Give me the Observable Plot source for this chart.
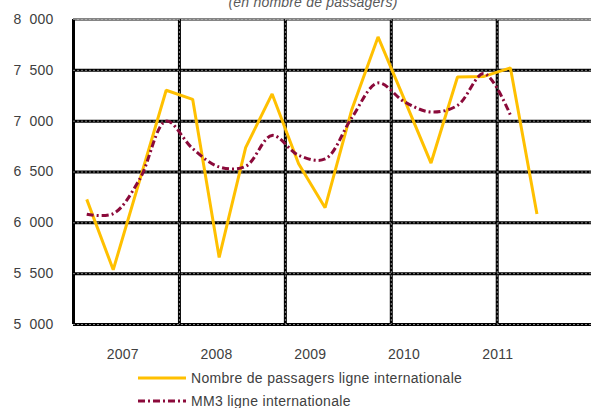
<!DOCTYPE html>
<html><head><meta charset="utf-8">
<script src="https://cdn.jsdelivr.net/npm/d3@7"></script>
<script src="https://cdn.jsdelivr.net/npm/@observablehq/plot@0.6"></script>
<style>
body{margin:0;background:#fff;font-family:"Liberation Sans",Arial,sans-serif;}
#wrap{position:relative;width:591px;height:408px;overflow:hidden;background:#fff;}
#title{position:absolute;left:0;width:626px;top:-5px;text-align:center;font-style:italic;font-size:14px;line-height:14px;color:#595959;letter-spacing:0.2px;}
#chart{position:absolute;left:0;top:0;}
.leg{position:absolute;left:138px;height:22px;display:flex;align-items:center;font-size:14px;color:#404040;white-space:nowrap;letter-spacing:0.3px;}
.leg svg{margin-right:5px;display:block}
</style></head><body>
<div id="wrap"><div id="chart"></div><div id="title">(en nombre de passagers)</div><div id="legend"></div></div>
<script>
// Trimestres (index 0..17)
const periods = [0,1,2,3,4,5,6,7,8,9,10,11,12,13,14,15,16,17];
const passagers = [6231,5538,6420,7304,7215,5660,6740,7268,6582,6149,7107,7829,7210,6588,7435,7440,7524,6087];
const mm3 = [6085,6090,6430,7000,6730,6550,6556,6860,6664,6628,7030,7376,7190,7090,7155,7468,7058];
const years = ["2007","2008","2009","2010","2011"];
const yTicks = [5000,5500,6000,6500,7000,7500,8000];
const seriesNames = ["Nombre de passagers ligne internationale","MM3 ligne internationale"];
const colors = ["#FFC000","#8B0A3A"];

const yearPos = years.map((_, i) => 1.36 + i * 3.54);
const vGrid = d3.range(-0.5, 19, 4);
const fmt = d3.formatLocale({decimal:",", thousands:"\u2007", grouping:[3], currency:["",""]}).format(",d");

const dataP = passagers.map((v,i)=>({x:periods[i], y:v}));
const dataM = mm3.map((v,i)=>({x:periods[i], y:v}));

const chart = Plot.plot({
  width:591, height:365, marginTop:19, marginBottom:41, marginLeft:73, marginRight:0,
  style:{fontFamily:'"Liberation Sans",Arial,sans-serif', fontSize:"14px", color:"#404040", background:"transparent", overflow:"visible", letterSpacing:"0.2px"},
  x:{domain:[-0.5,19.06], axis:null},
  y:{domain:[5000,8000], axis:null},
  marks:[
    Plot.ruleY(yTicks.filter(v=>v<8000), {stroke:"#000", strokeWidth:3}),
    Plot.ruleY([8000], {stroke:"#858585", strokeWidth:3}),
    Plot.ruleX(vGrid, {stroke:"#000", strokeWidth:3}),
    Plot.ruleY(yTicks, {stroke:"#bbb", strokeWidth:0.7, strokeDasharray:"2,2"}),
    Plot.ruleX(vGrid.slice(1), {stroke:"#bbb", strokeWidth:0.7, strokeDasharray:"2,2"}),
    Plot.line(dataP, {x:"x", y:"y", stroke:colors[0], strokeWidth:3, strokeLinejoin:"miter", strokeLinecap:"butt"}),
    Plot.line(dataM, {x:"x", y:"y", stroke:colors[1], strokeWidth:3, strokeDasharray:"7,3,2,3", strokeLinecap:"butt", curve:"catmull-rom"}),
    Plot.text(yTicks, {y:d=>d, text:d=>fmt(d), frameAnchor:"left", textAnchor:"end", dx:-20, fontSize:14, fill:"#404040"}),
    Plot.axisX(yearPos, {tickSize:0, tickPadding:25, tickFormat:d=>years[yearPos.indexOf(d)], fontSize:14, fill:"#404040", label:null})
  ]
});
document.getElementById("chart").appendChild(chart);

const legend = document.getElementById("legend");
const tops = [367, 390];
seriesNames.forEach((name, i) => {
  const row = document.createElement("div");
  row.className = "leg";
  row.style.top = tops[i] + "px";
  const dash = i === 1 ? 'stroke-dasharray="7,3,2,3"' : '';
  row.innerHTML = `<svg width="48" height="6"><line x1="0" y1="3" x2="48" y2="3" stroke="${colors[i]}" stroke-width="3" ${dash}/></svg><span>${name}</span>`;
  legend.appendChild(row);
});
</script>
</body></html>
